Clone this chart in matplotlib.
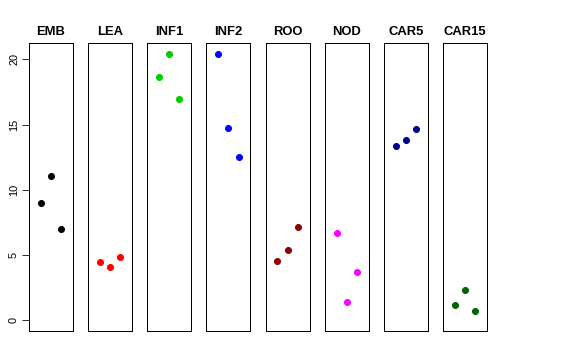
import matplotlib
matplotlib.use("Agg")
import matplotlib.pyplot as plt

tissues = ["EMB", "LEA", "INF1", "INF2", "ROO", "NOD", "CAR5", "CAR15"]
colors = ["black", "red", "#00CD00", "blue", "#8B0000", "magenta", "#00008B", "#006400"]
rep_x = [1, 2, 3]

emb = [8.97, 11.06, 6.97]
lea = [4.47, 4.08, 4.83]
inf1 = [18.67, 20.38, 16.96]
inf2 = [20.43, 14.76, 12.51]
roo = [4.52, 5.36, 7.17]
nod = [6.67, 1.40, 3.68]
car5 = [13.33, 13.84, 14.68]
car15 = [1.15, 2.30, 0.69]
values = [emb, lea, inf1, inf2, roo, nod, car5, car15]

plt.rcParams['font.family'] = ['Liberation Sans', 'DejaVu Sans']

W, H = 576, 360
fig = plt.figure(figsize=(W / 72, H / 72), dpi=72)

for i, name in enumerate(tissues):
    left = 29 + 59.14 * i
    ax = fig.add_axes([left / W, 29 / H, 44 / W, 288 / H])
    ax.plot(rep_x, values[i], "o", color=colors[i], ms=6, mec=colors[i])
    ax.set_xlim(-0.16, 4.16)
    ax.set_ylim(-0.82, 21.25)
    ax.set_title(name, fontsize=13, fontweight="bold", pad=8)
    ax.set_xticks([])
    for s in ax.spines.values():
        s.set_linewidth(1)
    if i == 0:
        ax.set_yticks([0, 5, 10, 15, 20])
        ax.tick_params(axis="y", length=7, labelsize=11, pad=3)
        for lab in ax.get_yticklabels():
            lab.set_rotation(90)
            lab.set_va("center")
        ax.spines["left"].set_visible(False)
        ax.spines["left"].set_visible(True)
    else:
        ax.set_yticks([])

fig.savefig("out.png", dpi=72)
